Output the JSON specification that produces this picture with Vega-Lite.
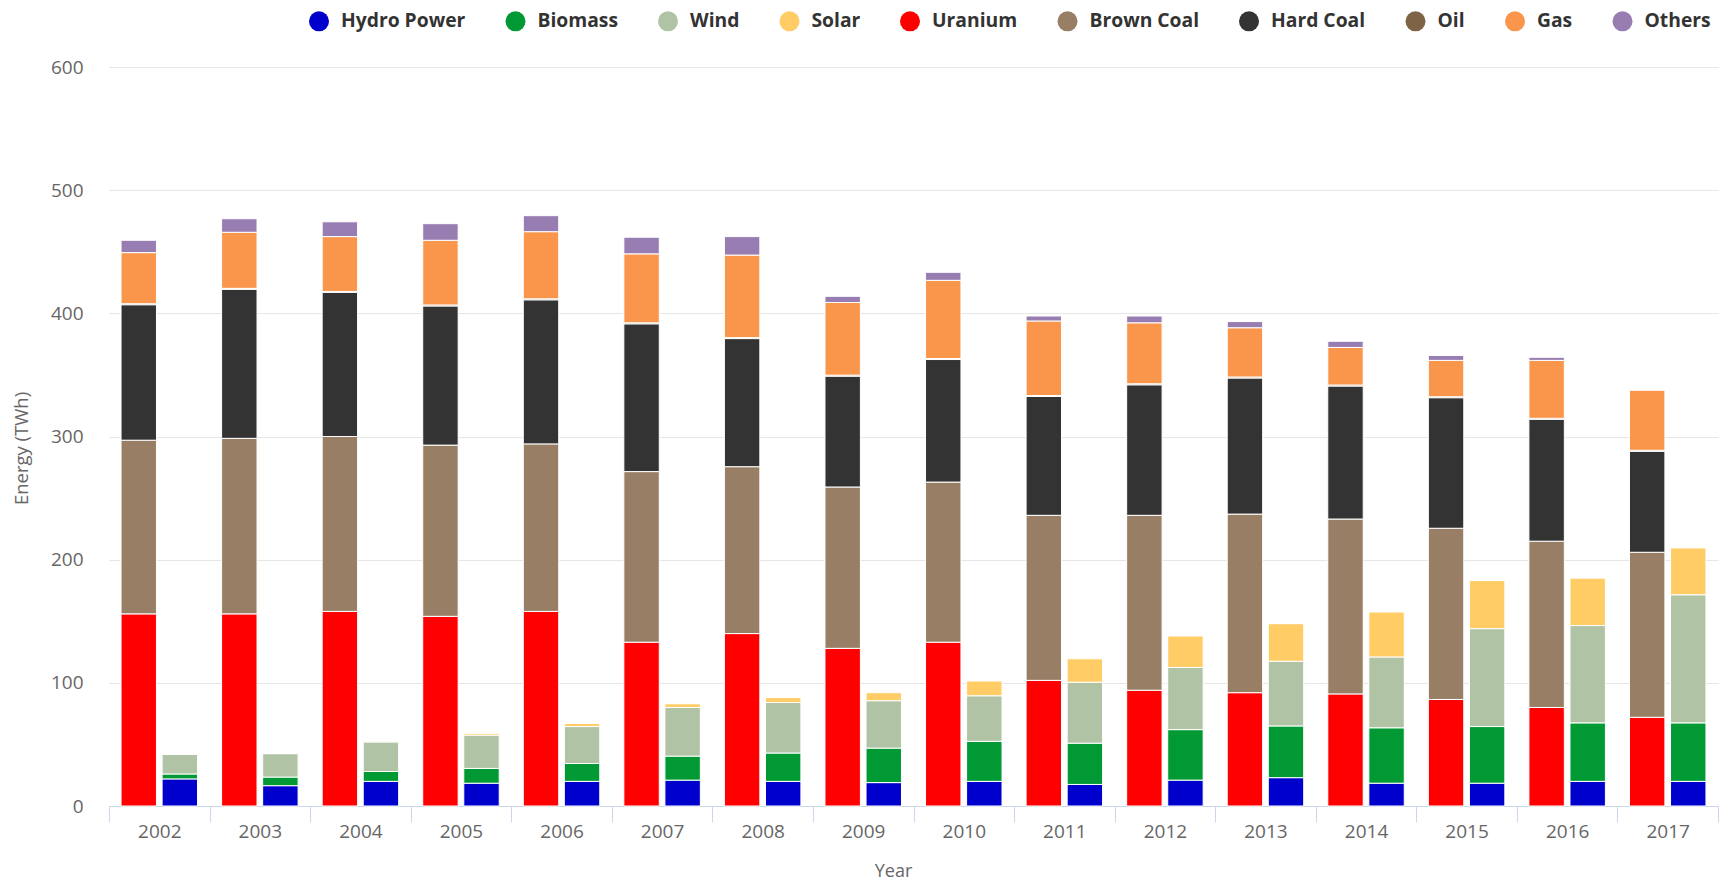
{
  "$schema": "https://vega.github.io/schema/vega-lite/v6.json",
  "width": 1609,
  "height": 739,
  "autosize": {"type": "none"},
  "padding": {"left": 109, "top": 67, "right": 3, "bottom": 74},
  "background": "white",
  "config": {"view": {"stroke": null}, "font": "Open Sans"},
  "datasets": {
    "sources": [
      {"Source": "Hydro Power", "Group": "Renewable", "Rank": 1},
      {"Source": "Biomass", "Group": "Renewable", "Rank": 2},
      {"Source": "Wind", "Group": "Renewable", "Rank": 3},
      {"Source": "Solar", "Group": "Renewable", "Rank": 4},
      {"Source": "Uranium", "Group": "Conventional", "Rank": 5},
      {"Source": "Brown Coal", "Group": "Conventional", "Rank": 6},
      {"Source": "Hard Coal", "Group": "Conventional", "Rank": 7},
      {"Source": "Oil", "Group": "Conventional", "Rank": 8},
      {"Source": "Gas", "Group": "Conventional", "Rank": 9},
      {"Source": "Others", "Group": "Conventional", "Rank": 10}
    ]
  },
  "data": {
    "values": [
      {"Year": "2002", "Source": "Uranium", "TWh": 156}, {"Year": "2002", "Source": "Brown Coal", "TWh": 141}, {"Year": "2002", "Source": "Hard Coal", "TWh": 110}, {"Year": "2002", "Source": "Oil", "TWh": 0.8}, {"Year": "2002", "Source": "Gas", "TWh": 41.5}, {"Year": "2002", "Source": "Others", "TWh": 10},
      {"Year": "2002", "Source": "Hydro Power", "TWh": 22}, {"Year": "2002", "Source": "Biomass", "TWh": 4}, {"Year": "2002", "Source": "Wind", "TWh": 16}, {"Year": "2002", "Source": "Solar", "TWh": 0.2},
      {"Year": "2003", "Source": "Uranium", "TWh": 156}, {"Year": "2003", "Source": "Brown Coal", "TWh": 142.5}, {"Year": "2003", "Source": "Hard Coal", "TWh": 121}, {"Year": "2003", "Source": "Oil", "TWh": 0.8}, {"Year": "2003", "Source": "Gas", "TWh": 45.5}, {"Year": "2003", "Source": "Others", "TWh": 11},
      {"Year": "2003", "Source": "Hydro Power", "TWh": 16.5}, {"Year": "2003", "Source": "Biomass", "TWh": 7}, {"Year": "2003", "Source": "Wind", "TWh": 19}, {"Year": "2003", "Source": "Solar", "TWh": 0.3},
      {"Year": "2004", "Source": "Uranium", "TWh": 158}, {"Year": "2004", "Source": "Brown Coal", "TWh": 142}, {"Year": "2004", "Source": "Hard Coal", "TWh": 117}, {"Year": "2004", "Source": "Oil", "TWh": 0.8}, {"Year": "2004", "Source": "Gas", "TWh": 44.5}, {"Year": "2004", "Source": "Others", "TWh": 12},
      {"Year": "2004", "Source": "Hydro Power", "TWh": 20}, {"Year": "2004", "Source": "Biomass", "TWh": 8}, {"Year": "2004", "Source": "Wind", "TWh": 24}, {"Year": "2004", "Source": "Solar", "TWh": 0.6},
      {"Year": "2005", "Source": "Uranium", "TWh": 154}, {"Year": "2005", "Source": "Brown Coal", "TWh": 139}, {"Year": "2005", "Source": "Hard Coal", "TWh": 113}, {"Year": "2005", "Source": "Oil", "TWh": 0.8}, {"Year": "2005", "Source": "Gas", "TWh": 52.5}, {"Year": "2005", "Source": "Others", "TWh": 13.5},
      {"Year": "2005", "Source": "Hydro Power", "TWh": 18.5}, {"Year": "2005", "Source": "Biomass", "TWh": 12}, {"Year": "2005", "Source": "Wind", "TWh": 27}, {"Year": "2005", "Source": "Solar", "TWh": 1.3},
      {"Year": "2006", "Source": "Uranium", "TWh": 158}, {"Year": "2006", "Source": "Brown Coal", "TWh": 136}, {"Year": "2006", "Source": "Hard Coal", "TWh": 117}, {"Year": "2006", "Source": "Oil", "TWh": 0.8}, {"Year": "2006", "Source": "Gas", "TWh": 54.5}, {"Year": "2006", "Source": "Others", "TWh": 13},
      {"Year": "2006", "Source": "Hydro Power", "TWh": 20}, {"Year": "2006", "Source": "Biomass", "TWh": 14.5}, {"Year": "2006", "Source": "Wind", "TWh": 30}, {"Year": "2006", "Source": "Solar", "TWh": 2.5},
      {"Year": "2007", "Source": "Uranium", "TWh": 133}, {"Year": "2007", "Source": "Brown Coal", "TWh": 138.5}, {"Year": "2007", "Source": "Hard Coal", "TWh": 120}, {"Year": "2007", "Source": "Oil", "TWh": 0.8}, {"Year": "2007", "Source": "Gas", "TWh": 56}, {"Year": "2007", "Source": "Others", "TWh": 13.5},
      {"Year": "2007", "Source": "Hydro Power", "TWh": 21}, {"Year": "2007", "Source": "Biomass", "TWh": 19.5}, {"Year": "2007", "Source": "Wind", "TWh": 39.5}, {"Year": "2007", "Source": "Solar", "TWh": 3},
      {"Year": "2008", "Source": "Uranium", "TWh": 140}, {"Year": "2008", "Source": "Brown Coal", "TWh": 135.5}, {"Year": "2008", "Source": "Hard Coal", "TWh": 104}, {"Year": "2008", "Source": "Oil", "TWh": 0.8}, {"Year": "2008", "Source": "Gas", "TWh": 67}, {"Year": "2008", "Source": "Others", "TWh": 15},
      {"Year": "2008", "Source": "Hydro Power", "TWh": 20}, {"Year": "2008", "Source": "Biomass", "TWh": 23}, {"Year": "2008", "Source": "Wind", "TWh": 41}, {"Year": "2008", "Source": "Solar", "TWh": 4},
      {"Year": "2009", "Source": "Uranium", "TWh": 128}, {"Year": "2009", "Source": "Brown Coal", "TWh": 131}, {"Year": "2009", "Source": "Hard Coal", "TWh": 90}, {"Year": "2009", "Source": "Oil", "TWh": 0.8}, {"Year": "2009", "Source": "Gas", "TWh": 59}, {"Year": "2009", "Source": "Others", "TWh": 5},
      {"Year": "2009", "Source": "Hydro Power", "TWh": 19}, {"Year": "2009", "Source": "Biomass", "TWh": 28}, {"Year": "2009", "Source": "Wind", "TWh": 38.5}, {"Year": "2009", "Source": "Solar", "TWh": 6.5},
      {"Year": "2010", "Source": "Uranium", "TWh": 133}, {"Year": "2010", "Source": "Brown Coal", "TWh": 130}, {"Year": "2010", "Source": "Hard Coal", "TWh": 99.5}, {"Year": "2010", "Source": "Oil", "TWh": 0.8}, {"Year": "2010", "Source": "Gas", "TWh": 63.5}, {"Year": "2010", "Source": "Others", "TWh": 6.5},
      {"Year": "2010", "Source": "Hydro Power", "TWh": 20}, {"Year": "2010", "Source": "Biomass", "TWh": 32.5}, {"Year": "2010", "Source": "Wind", "TWh": 37}, {"Year": "2010", "Source": "Solar", "TWh": 12},
      {"Year": "2011", "Source": "Uranium", "TWh": 102}, {"Year": "2011", "Source": "Brown Coal", "TWh": 134}, {"Year": "2011", "Source": "Hard Coal", "TWh": 96.5}, {"Year": "2011", "Source": "Oil", "TWh": 0.8}, {"Year": "2011", "Source": "Gas", "TWh": 60.5}, {"Year": "2011", "Source": "Others", "TWh": 4},
      {"Year": "2011", "Source": "Hydro Power", "TWh": 17.5}, {"Year": "2011", "Source": "Biomass", "TWh": 33.5}, {"Year": "2011", "Source": "Wind", "TWh": 49.5}, {"Year": "2011", "Source": "Solar", "TWh": 19},
      {"Year": "2012", "Source": "Uranium", "TWh": 94}, {"Year": "2012", "Source": "Brown Coal", "TWh": 142}, {"Year": "2012", "Source": "Hard Coal", "TWh": 106}, {"Year": "2012", "Source": "Oil", "TWh": 0.8}, {"Year": "2012", "Source": "Gas", "TWh": 49.5}, {"Year": "2012", "Source": "Others", "TWh": 5.5},
      {"Year": "2012", "Source": "Hydro Power", "TWh": 21}, {"Year": "2012", "Source": "Biomass", "TWh": 41}, {"Year": "2012", "Source": "Wind", "TWh": 50.5}, {"Year": "2012", "Source": "Solar", "TWh": 25.5},
      {"Year": "2013", "Source": "Uranium", "TWh": 92}, {"Year": "2013", "Source": "Brown Coal", "TWh": 145}, {"Year": "2013", "Source": "Hard Coal", "TWh": 110.5}, {"Year": "2013", "Source": "Oil", "TWh": 0.8}, {"Year": "2013", "Source": "Gas", "TWh": 40}, {"Year": "2013", "Source": "Others", "TWh": 5},
      {"Year": "2013", "Source": "Hydro Power", "TWh": 23}, {"Year": "2013", "Source": "Biomass", "TWh": 42}, {"Year": "2013", "Source": "Wind", "TWh": 52.5}, {"Year": "2013", "Source": "Solar", "TWh": 30.5},
      {"Year": "2014", "Source": "Uranium", "TWh": 91}, {"Year": "2014", "Source": "Brown Coal", "TWh": 142}, {"Year": "2014", "Source": "Hard Coal", "TWh": 108}, {"Year": "2014", "Source": "Oil", "TWh": 0.8}, {"Year": "2014", "Source": "Gas", "TWh": 30.5}, {"Year": "2014", "Source": "Others", "TWh": 5},
      {"Year": "2014", "Source": "Hydro Power", "TWh": 18.5}, {"Year": "2014", "Source": "Biomass", "TWh": 45}, {"Year": "2014", "Source": "Wind", "TWh": 57.5}, {"Year": "2014", "Source": "Solar", "TWh": 36.5},
      {"Year": "2015", "Source": "Uranium", "TWh": 86.5}, {"Year": "2015", "Source": "Brown Coal", "TWh": 139}, {"Year": "2015", "Source": "Hard Coal", "TWh": 106}, {"Year": "2015", "Source": "Oil", "TWh": 0.8}, {"Year": "2015", "Source": "Gas", "TWh": 29.5}, {"Year": "2015", "Source": "Others", "TWh": 4},
      {"Year": "2015", "Source": "Hydro Power", "TWh": 18.5}, {"Year": "2015", "Source": "Biomass", "TWh": 46}, {"Year": "2015", "Source": "Wind", "TWh": 79.5}, {"Year": "2015", "Source": "Solar", "TWh": 39},
      {"Year": "2016", "Source": "Uranium", "TWh": 80}, {"Year": "2016", "Source": "Brown Coal", "TWh": 135}, {"Year": "2016", "Source": "Hard Coal", "TWh": 99}, {"Year": "2016", "Source": "Oil", "TWh": 0.8}, {"Year": "2016", "Source": "Gas", "TWh": 47}, {"Year": "2016", "Source": "Others", "TWh": 2.5},
      {"Year": "2016", "Source": "Hydro Power", "TWh": 20}, {"Year": "2016", "Source": "Biomass", "TWh": 47.5}, {"Year": "2016", "Source": "Wind", "TWh": 79}, {"Year": "2016", "Source": "Solar", "TWh": 38.5},
      {"Year": "2017", "Source": "Uranium", "TWh": 72}, {"Year": "2017", "Source": "Brown Coal", "TWh": 134}, {"Year": "2017", "Source": "Hard Coal", "TWh": 82}, {"Year": "2017", "Source": "Oil", "TWh": 0.8}, {"Year": "2017", "Source": "Gas", "TWh": 49}, {"Year": "2017", "Source": "Others", "TWh": 0},
      {"Year": "2017", "Source": "Hydro Power", "TWh": 20}, {"Year": "2017", "Source": "Biomass", "TWh": 47.5}, {"Year": "2017", "Source": "Wind", "TWh": 104}, {"Year": "2017", "Source": "Solar", "TWh": 38}
    ]
  },
  "transform": [
    {"lookup": "Source", "from": {"data": {"name": "sources"}, "key": "Source", "fields": ["Group", "Rank"]}}
  ],
  "mark": {"type": "bar", "stroke": "white", "strokeWidth": 1},
  "encoding": {
    "x": {
      "field": "Year", "type": "ordinal",
      "scale": {"paddingInner": 0, "paddingOuter": 0},
      "axis": {
        "title": "Year", "labelAngle": 0, "tickBand": "extent",
        "domainColor": "#ccd6eb", "tickColor": "#ccd6eb", "tickSize": 16,
        "labelPadding": 0, "labelFont": "Open Sans", "labelFontSize": 19, "labelColor": "#666666",
        "grid": false,
        "titleFont": "Open Sans", "titleFontSize": 18, "titleColor": "#666666", "titleFontWeight": "normal",
        "titleX": 784, "titleY": 65, "titleBaseline": "middle", "titleAlign": "center"
      }
    },
    "xOffset": {
      "field": "Group", "type": "nominal",
      "scale": {"domain": ["Conventional", "Renewable"], "paddingInner": 0.137, "paddingOuter": 0.293}
    },
    "y": {
      "field": "TWh", "type": "quantitative", "stack": "zero",
      "scale": {"domain": [0, 600], "nice": false},
      "axis": {
        "values": [0, 100, 200, 300, 400, 500, 600],
        "title": "Energy (TWh)", "grid": true, "gridColor": "#e6e6e6",
        "domain": false, "ticks": false, "tickSize": 0, "labelPadding": 26,
        "labelFont": "Open Sans", "labelFontSize": 19, "labelColor": "#666666",
        "titleFont": "Open Sans", "titleFontSize": 18.5, "titleColor": "#666666", "titleFontWeight": "normal",
        "titleAngle": 270, "titleX": -88, "titleY": 381, "titleAlign": "center", "titleBaseline": "middle"
      }
    },
    "color": {
      "field": "Source", "type": "nominal",
      "scale": {
        "domain": ["Hydro Power", "Biomass", "Wind", "Solar", "Uranium", "Brown Coal", "Hard Coal", "Oil", "Gas", "Others"],
        "range": ["#0000cc", "#009933", "#b0c4a5", "#ffcc66", "#ff0000", "#987e64", "#333333", "#7f6347", "#fa964b", "#977db1"]
      },
      "legend": {
        "title": null, "orient": "none", "legendX": 200, "legendY": -56,
        "direction": "horizontal", "symbolType": "circle", "symbolSize": 400,
        "symbolStrokeWidth": 0, "symbolOpacity": 1,
        "labelFont": "Open Sans", "labelFontSize": 19.3, "labelFontWeight": "bold", "labelColor": "#333333",
        "labelOffset": 12, "columnPadding": 39.5, "padding": 0
      }
    },
    "order": {"field": "Rank", "type": "quantitative", "sort": "ascending"}
  }
}
